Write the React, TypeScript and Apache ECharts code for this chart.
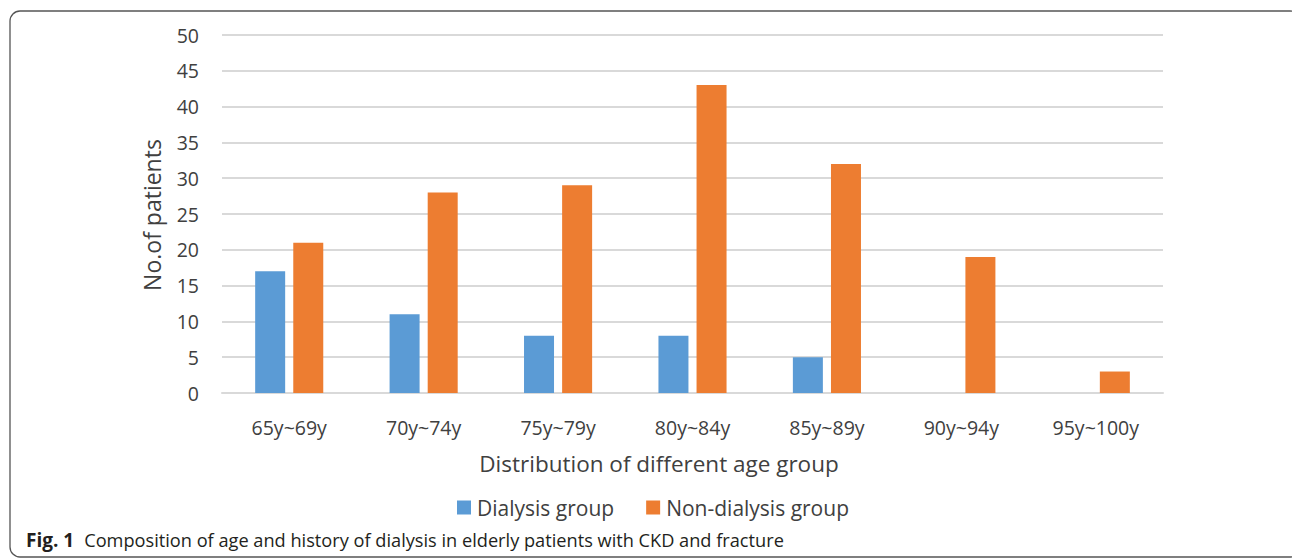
import React, { useEffect, useRef } from "react";
import * as echarts from "echarts";

const categories = ["65y~69y", "70y~74y", "75y~79y", "80y~84y", "85y~89y", "90y~94y", "95y~100y"];
const dialysis = [17, 11, 8, 8, 5, 0, 0];
const nonDialysis = [21, 28, 29, 43, 32, 19, 3];
const seriesNames = ["Dialysis group", "Non-dialysis group"];
const yTitle = "No.of patients";
const xTitle = "Distribution of different age group";
const captionBold = "Fig. 1";
const captionText = "Composition of age and history of dialysis in elderly patients with CKD and fracture";

const FONT = "'Open Sans', 'DejaVu Sans', sans-serif";

export default function App() {
  const ref = useRef<HTMLDivElement>(null);
  useEffect(() => {
    if (!ref.current) return;
    const chart = echarts.init(ref.current, undefined, { renderer: "svg" });
    chart.setOption({
      animation: false,
      backgroundColor: "#ffffff",
      textStyle: { fontFamily: FONT },
      grid: { left: 222, right: 129, top: 35, bottom: 166, containLabel: false },
      legend: {
        data: seriesNames,
        left: 452,
        top: 492,
        itemWidth: 14,
        itemHeight: 14,
        itemGap: 32,
        icon: "rect",
        textStyle: { fontSize: 21, color: "#404040", fontFamily: FONT, padding: [0, 0, 0, 1] },
      },
      xAxis: {
        type: "category",
        data: categories,
        axisLine: { show: true, lineStyle: { color: "#d9d9d9", width: 2 } },
        axisTick: { show: false },
        axisLabel: { fontSize: 19.5, color: "#404040", margin: 24, fontFamily: FONT },
      },
      yAxis: {
        type: "value",
        min: 0,
        max: 50,
        interval: 5,
        axisLine: { show: false },
        axisTick: { show: false },
        axisLabel: { fontSize: 19.5, color: "#404040", margin: 23, fontFamily: FONT },
        splitLine: { lineStyle: { color: "#d9d9d9", width: 2 } },
      },
      series: [
        {
          name: seriesNames[0],
          type: "bar",
          data: dialysis,
          barWidth: 30,
          barGap: "27%",
          itemStyle: { color: "#5b9bd5" },
        },
        {
          name: seriesNames[1],
          type: "bar",
          data: nonDialysis,
          barWidth: 30,
          itemStyle: { color: "#ed7d31" },
        },
      ],
      graphic: [
        {
          type: "rect",
          shape: { x: 10, y: 11, width: 1290, height: 546, r: 10 },
          style: { fill: "none", stroke: "#555555", lineWidth: 1.3 },
          silent: true,
        },
        {
          type: "text",
          x: 152,
          y: 215,
          rotation: Math.PI / 2,
          style: {
            text: yTitle,
            fontSize: 23,
            fill: "#404040",
            fontFamily: FONT,
            align: "center",
            verticalAlign: "middle",
          },
        },
        {
          type: "text",
          x: 659,
          y: 463,
          style: {
            text: xTitle,
            fontSize: 22.5,
            fill: "#404040",
            fontFamily: FONT,
            align: "center",
            verticalAlign: "middle",
          },
        },
        {
          type: "text",
          x: 26,
          y: 540,
          style: {
            text: "{b|" + captionBold + "}{s| }{n|" + captionText + "}",
            verticalAlign: "middle",
            rich: {
              b: { fontSize: 19, fontWeight: "bold", fill: "#231f20", fontFamily: FONT },
              s: { fontSize: 19, width: 10 },
              n: { fontSize: 18.2, fill: "#231f20", fontFamily: FONT },
            },
          },
        },
      ],
    });
    return () => chart.dispose();
  }, []);
  return (
    <div
      ref={ref}
      style={{ position: "fixed", left: 0, top: 0, width: 1292, height: 559 }}
    />
  );
}
